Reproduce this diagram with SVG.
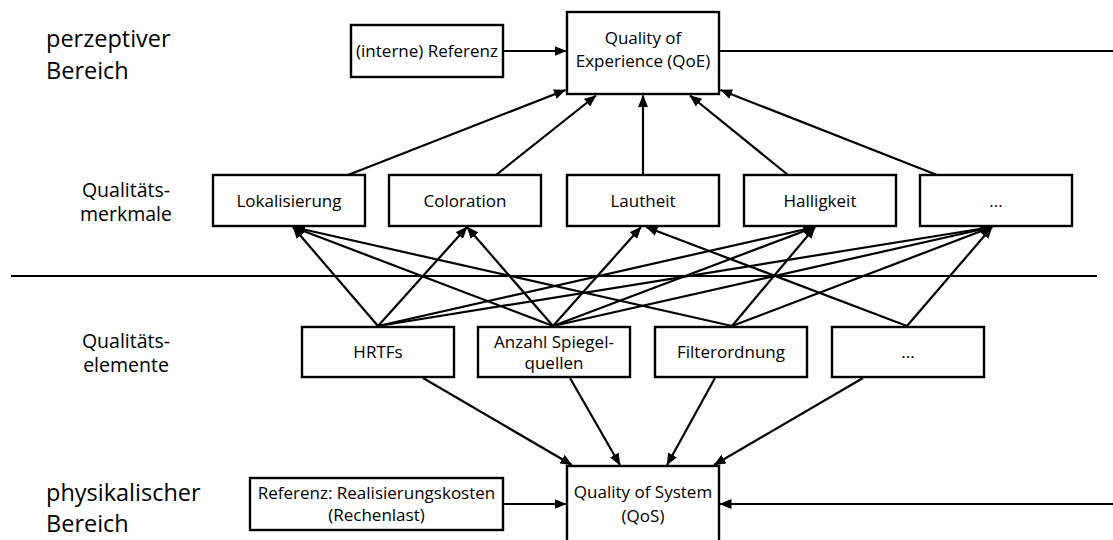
<svg xmlns="http://www.w3.org/2000/svg" width="1113" height="540" viewBox="0 0 1113 540">
  <style>
    .box { fill: #fff; stroke: #000; stroke-width: 2.4; }
    .t { font-family: "Open Sans", "Noto Sans", "DejaVu Sans", sans-serif; font-size: 17px; fill: #000; text-anchor: middle; }
    .lab { font-family: "Open Sans", "Noto Sans", "DejaVu Sans", sans-serif; font-size: 19.5px; fill: #000; text-anchor: middle; }
    .big { font-family: "Open Sans", "Noto Sans", "DejaVu Sans", sans-serif; font-size: 23.5px; fill: #000; }
    .ln { stroke: #000; stroke-width: 2.2; fill: none; }
    .arr { stroke: #000; stroke-width: 2.2; fill: none; marker-end: url(#ah); }
  </style>
  <defs>
    <marker id="ah" viewBox="0 0 12 10" refX="11.5" refY="5" markerWidth="12" markerHeight="10" markerUnits="userSpaceOnUse" orient="auto">
      <path d="M0,0 L12,5 L0,10 z" fill="#000"/>
    </marker>
  </defs>
  <rect width="1113" height="540" fill="#fff"/>

  <!-- level labels -->
  <g id="labels">
    <text class="big" x="46" y="47">perzeptiver</text>
    <text class="big" x="46" y="79">Bereich</text>
    <text class="lab" x="126" y="197">Qualitäts-</text>
    <text class="lab" x="126" y="221">merkmale</text>
    <text class="lab" x="126" y="348">Qualitäts-</text>
    <text class="lab" x="126" y="372">elemente</text>
    <text class="big" x="46" y="501">physikalischer</text>
    <text class="big" x="46" y="532">Bereich</text>
  </g>

  <!-- separator between perceptual and physical levels -->
  <line class="ln" x1="11" y1="276" x2="1097" y2="276"/>

  <!-- connectors -->
  <g id="connectors">
    <!-- references and side inputs -->
    <line class="arr" x1="503" y1="51" x2="566" y2="51"/>
    <line class="ln" x1="719" y1="51" x2="1113" y2="51"/>
    <line class="arr" x1="503" y1="504" x2="566" y2="504"/>
    <line class="arr" x1="1113" y1="504" x2="720" y2="504"/>

    <!-- features to QoE -->
    <line class="arr" x1="348" y1="175" x2="565.5" y2="90"/>
    <line class="arr" x1="496" y1="175" x2="596" y2="95.5"/>
    <line class="arr" x1="643" y1="175" x2="643" y2="95.5"/>
    <line class="arr" x1="788" y1="175" x2="690" y2="95.5"/>
    <line class="arr" x1="937" y1="175" x2="720.5" y2="90"/>

    <!-- elements to features -->
    <line class="arr" x1="378" y1="326" x2="293" y2="227"/>
    <line class="arr" x1="378" y1="326" x2="467" y2="227"/>
    <line class="arr" x1="378" y1="326" x2="815" y2="227"/>
    <line class="arr" x1="378" y1="326" x2="992" y2="227"/>

    <line class="arr" x1="553" y1="326" x2="293" y2="227"/>
    <line class="arr" x1="553" y1="326" x2="467" y2="227"/>
    <line class="arr" x1="553" y1="326" x2="641" y2="227"/>
    <line class="arr" x1="553" y1="326" x2="815" y2="227"/>
    <line class="arr" x1="553" y1="326" x2="992" y2="227"/>

    <line class="arr" x1="732" y1="326" x2="293" y2="227"/>
    <line class="arr" x1="732" y1="326" x2="815" y2="227"/>
    <line class="arr" x1="732" y1="326" x2="992" y2="227"/>

    <line class="arr" x1="907" y1="326" x2="646" y2="227"/>
    <line class="arr" x1="907" y1="326" x2="992" y2="227"/>

    <!-- elements to QoS -->
    <line class="arr" x1="423" y1="378" x2="572" y2="465"/>
    <line class="arr" x1="570" y1="378" x2="620" y2="465"/>
    <line class="arr" x1="715" y1="378" x2="667" y2="465"/>
    <line class="arr" x1="863" y1="378" x2="714" y2="465"/>
  </g>

  <!-- perceptual level -->
  <g id="ref-intern">
    <rect class="box" x="351" y="25" width="152" height="52"/>
    <text class="t" x="427" y="57">(interne) Referenz</text>
  </g>
  <g id="qoe">
    <rect class="box" x="567" y="12" width="152" height="82"/>
    <text class="t" x="643" y="44">Quality of</text>
    <text class="t" x="643" y="67">Experience (QoE)</text>
  </g>

  <!-- quality features -->
  <g id="lokalisierung">
    <rect class="box" x="213" y="175" width="152" height="51"/>
    <text class="t" x="289" y="206.5">Lokalisierung</text>
  </g>
  <g id="coloration">
    <rect class="box" x="389" y="175" width="152" height="51"/>
    <text class="t" x="465" y="206.5">Coloration</text>
  </g>
  <g id="lautheit">
    <rect class="box" x="567" y="175" width="152" height="51"/>
    <text class="t" x="643" y="206.5">Lautheit</text>
  </g>
  <g id="halligkeit">
    <rect class="box" x="744" y="175" width="152" height="51"/>
    <text class="t" x="820" y="206.5">Halligkeit</text>
  </g>
  <g id="merkmal-weitere">
    <rect class="box" x="920" y="175" width="152" height="51"/>
    <text class="t" x="996" y="206.5">...</text>
  </g>

  <!-- quality elements -->
  <g id="hrtfs">
    <rect class="box" x="302" y="327" width="152" height="50"/>
    <text class="t" x="378" y="358">HRTFs</text>
  </g>
  <g id="spiegelquellen">
    <rect class="box" x="478" y="327" width="152" height="50"/>
    <text class="t" x="554" y="347.5">Anzahl Spiegel-</text>
    <text class="t" x="554" y="368.5">quellen</text>
  </g>
  <g id="filterordnung">
    <rect class="box" x="655" y="327" width="152" height="50"/>
    <text class="t" x="731" y="358">Filterordnung</text>
  </g>
  <g id="element-weitere">
    <rect class="box" x="832" y="327" width="152" height="50"/>
    <text class="t" x="908" y="358">...</text>
  </g>

  <!-- physical level -->
  <g id="ref-kosten">
    <rect class="box" x="250" y="478" width="253" height="52"/>
    <text class="t" x="376.5" y="499">Referenz: Realisierungskosten</text>
    <text class="t" x="376.5" y="521">(Rechenlast)</text>
  </g>
  <g id="qos">
    <rect class="box" x="567" y="466" width="152" height="90"/>
    <text class="t" x="643" y="498">Quality of System</text>
    <text class="t" x="643" y="521.5">(QoS)</text>
  </g>
</svg>
